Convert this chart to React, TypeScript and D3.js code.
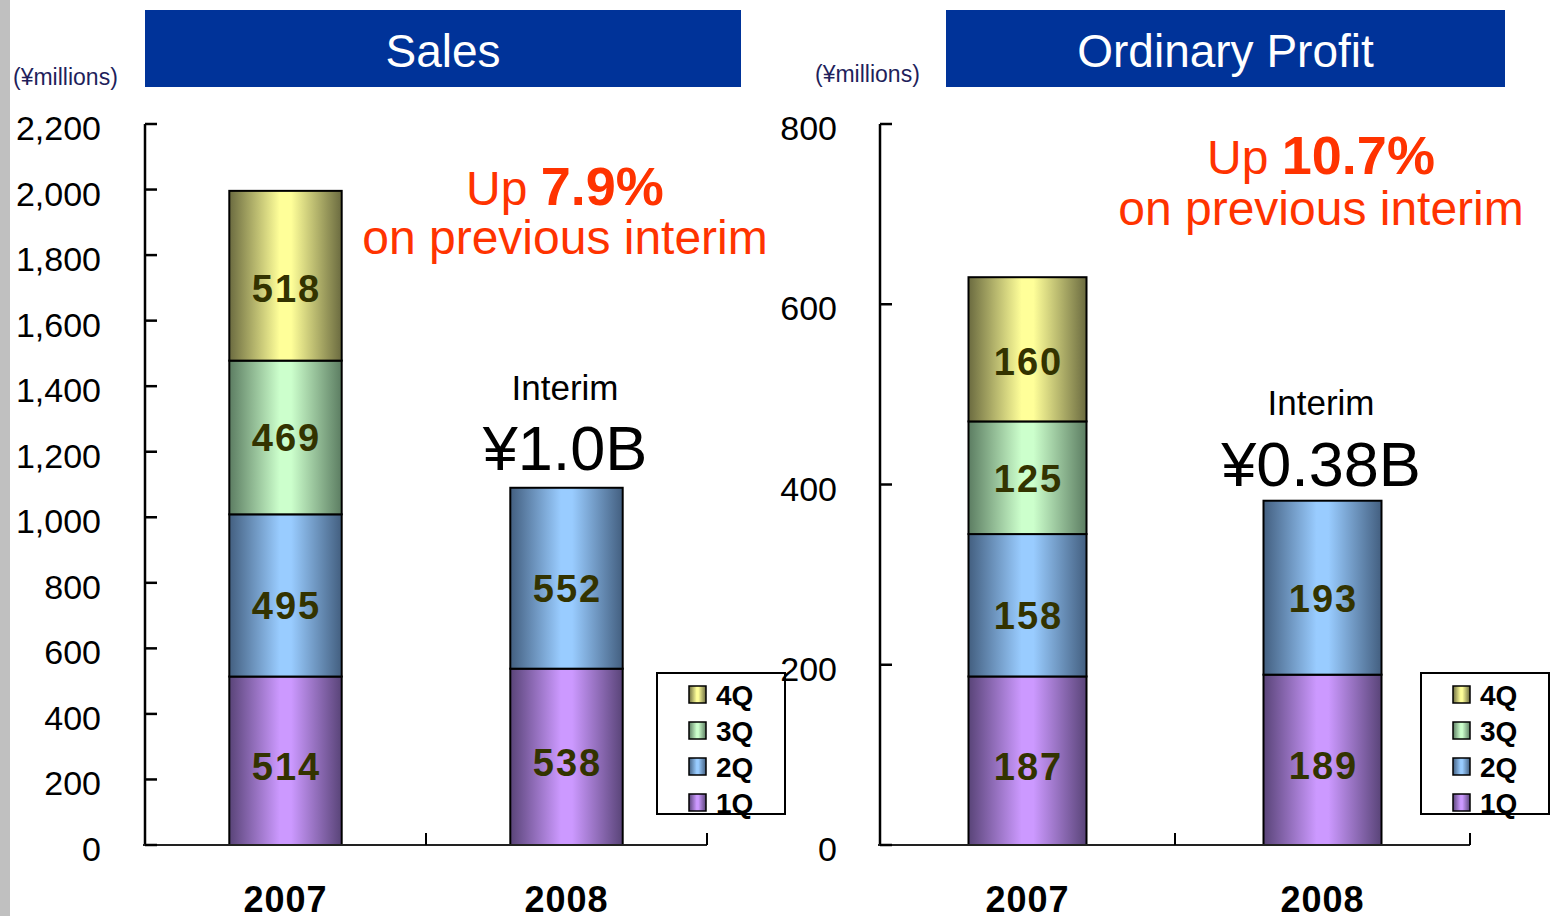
import React from 'react';
import * as d3 from 'd3';

const categories = ['2007', '2008'];
const quarterKeys = ['1Q', '2Q', '3Q', '4Q'];

const salesQ1 = [514, 538];
const salesQ2 = [495, 552];
const salesQ3 = [469, 0];
const salesQ4 = [518, 0];

const profitQ1 = [187, 189];
const profitQ2 = [158, 193];
const profitQ3 = [125, 0];
const profitQ4 = [160, 0];

const salesTicks = [0, 200, 400, 600, 800, 1000, 1200, 1400, 1600, 1800, 2000, 2200];
const profitTicks = [0, 200, 400, 600, 800];

const quarterLight = ['#cc99ff', '#99ccff', '#ccffcc', '#ffff99'];
const quarterDark = ['#594478', '#435f80', '#5c7d62', '#6b6b40'];
const labelShift = [6, 11, 1, 13];

const FONT = 'Liberation Sans, Arial, Helvetica, sans-serif';

type Panel = {
  id: string;
  title: string;
  q: number[][];
  ticks: number[];
  max: number;
  axisX: number;
  endX: number;
  titleX: number;
  titleW: number;
  unitX: number;
  unitY: number;
  tickLabelX: number;
  upText: string;
  upX: number;
  upY: number;
  prevY: number;
  interimY: number;
  totalText: string;
  totalY: number;
  legendX: number;
};

const panels: Panel[] = [
  {
    id: 's', title: 'Sales', q: [salesQ1, salesQ2, salesQ3, salesQ4], ticks: salesTicks, max: 2200,
    axisX: 145, endX: 707, titleX: 145, titleW: 596, unitX: 13, unitY: 85, tickLabelX: 101,
    upText: '7.9%', upX: 565, upY: 205, prevY: 254, interimY: 400, totalText: '¥1.0B', totalY: 470, legendX: 657,
  },
  {
    id: 'p', title: 'Ordinary Profit', q: [profitQ1, profitQ2, profitQ3, profitQ4], ticks: profitTicks, max: 800,
    axisX: 880, endX: 1470, titleX: 946, titleW: 559, unitX: 815, unitY: 82, tickLabelX: 837,
    upText: '10.7%', upX: 1321, upY: 174, prevY: 225, interimY: 415, totalText: '¥0.38B', totalY: 486, legendX: 1421,
  },
];

const Y_TOP = 124;
const Y_BOT = 845;

function PanelView({ p }: { p: Panel }) {
  const y = d3.scaleLinear().domain([0, p.max]).range([Y_BOT, Y_TOP]);
  const x = d3.scaleBand<string>().domain(categories).range([p.axisX, p.endX]).paddingInner(0.6).paddingOuter(0.3);
  const rows = categories.map((c, i) => {
    const r: any = { cat: c };
    quarterKeys.forEach((k, qi) => (r[k] = p.q[qi][i]));
    return r;
  });
  const stack = d3.stack<any>().keys(quarterKeys)(rows);
  const step = x.step();
  const boundaries = categories.map((c) => (x(c) as number) - step * 0.3 + step);

  return (
    <g>
      <rect x={p.titleX} y={10} width={p.titleW} height={77} fill="#003399" />
      <text x={p.titleX + p.titleW / 2} y={67} textAnchor="middle" fill="#ffffff" fontSize={46} fontFamily={FONT}>{p.title}</text>
      <text x={p.unitX} y={p.unitY} fill="#1f1f5c" fontSize={23} fontFamily={FONT}>(¥millions)</text>

      {/* bars */}
      {stack.map((layer, qi) =>
        layer.map((d, i) => {
          const v = d[1] - d[0];
          if (!v) return null;
          const bx = x(categories[i]) as number;
          const top = y(d[1]);
          const bot = y(d[0]);
          return (
            <g key={`${qi}-${i}`}>
              <rect x={bx} y={top} width={x.bandwidth()} height={bot - top} fill={`url(#grad-${qi})`} stroke="#000" strokeWidth={2} />
              <text x={bx + x.bandwidth() / 2 + 1} y={(top + bot) / 2 + labelShift[qi] + 13} textAnchor="middle" fill="#333300"
                fontSize={38} fontWeight="bold" letterSpacing={2} fontFamily={FONT}>{v}</text>
            </g>
          );
        })
      )}

      {/* axes */}
      <line x1={p.axisX} x2={p.axisX} y1={Y_TOP} y2={Y_BOT + 1} stroke="#000" strokeWidth={2.5} />
      <line x1={p.axisX - 2} x2={p.endX} y1={Y_BOT} y2={Y_BOT} stroke="#222" strokeWidth={2} />
      {p.ticks.map((t) => (
        <g key={t}>
          <line x1={p.axisX} x2={p.axisX + 12} y1={y(t)} y2={y(t)} stroke="#000" strokeWidth={2.5} />
          <text x={p.tickLabelX} y={y(t) + 16} textAnchor="end" fill="#000" fontSize={34} fontFamily={FONT}>
            {d3.format(',')(t)}
          </text>
        </g>
      ))}
      {boundaries.map((bx, i) => (
        <line key={i} x1={bx} x2={bx} y1={Y_BOT} y2={Y_BOT - 12} stroke="#000" strokeWidth={2} />
      ))}
      {categories.map((c) => (
        <text key={c} x={(x(c) as number) + x.bandwidth() / 2} y={912} textAnchor="middle" fontSize={36} fontWeight="bold"
          letterSpacing={1} fontFamily={FONT} fill="#000">{c}</text>
      ))}

      {/* annotations */}
      <text x={p.upX} y={p.upY} textAnchor="middle" fill="#ff3300" fontFamily={FONT}>
        <tspan fontSize={48}>Up </tspan>
        <tspan fontSize={54} fontWeight="bold">{p.upText}</tspan>
      </text>
      <text x={p.upX} y={p.prevY} textAnchor="middle" fill="#ff3300" fontSize={48} fontFamily={FONT}>on previous interim</text>
      <text x={p.upX} y={p.interimY} textAnchor="middle" fill="#000" fontSize={35} fontFamily={FONT}>Interim</text>
      <text x={p.upX} y={p.totalY} textAnchor="middle" fill="#000" fontSize={63} fontFamily={FONT}>{p.totalText}</text>

      {/* legend */}
      <rect x={p.legendX} y={673} width={128} height={141} fill="#fff" stroke="#000" strokeWidth={2} />
      {[3, 2, 1, 0].map((qi, r) => (
        <g key={qi}>
          <rect x={p.legendX + 32} y={686 + r * 36} width={17} height={17} fill={`url(#grad-${qi})`} stroke="#000" strokeWidth={1.5} />
          <text x={p.legendX + 59} y={705 + r * 36} fontSize={28} fontWeight="bold" fontFamily={FONT} fill="#000">{quarterKeys[qi]}</text>
        </g>
      ))}
    </g>
  );
}

export default function App() {
  return (
    <svg width={1553} height={916} style={{ position: 'absolute', left: 0, top: 0, display: 'block' }}>
      <defs>
        {quarterKeys.map((k, qi) => (
          <linearGradient key={k} id={`grad-${qi}`} x1="0" x2="1" y1="0" y2="0">
            <stop offset="0" stopColor={quarterDark[qi]} />
            <stop offset="0.45" stopColor={quarterLight[qi]} />
            <stop offset="0.55" stopColor={quarterLight[qi]} />
            <stop offset="1" stopColor={quarterDark[qi]} />
          </linearGradient>
        ))}
      </defs>
      <rect x={0} y={0} width={1553} height={916} fill="#fff" />
      <rect x={0} y={0} width={10} height={916} fill="#c0c0c0" />
      {panels.map((p) => (
        <PanelView key={p.id} p={p} />
      ))}
    </svg>
  );
}
